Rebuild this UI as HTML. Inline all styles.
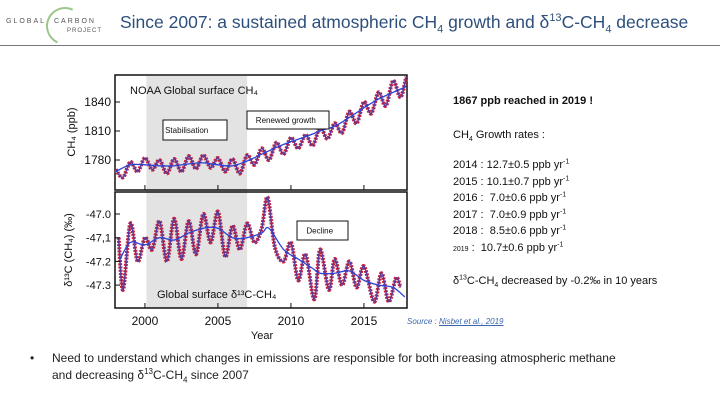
<!DOCTYPE html>
<html><head><meta charset="utf-8"><style>
body{margin:0;width:720px;height:405px;background:#fff;overflow:hidden;position:relative;font-family:"Liberation Sans","DejaVu Sans",sans-serif}
.t{position:absolute;white-space:nowrap}
sup,sub{line-height:0}
</style></head><body>
<div class="t" style="left:6px;top:18px;font-size:7px;letter-spacing:2px;color:#555">GLOBAL</div>
<div style="position:absolute;left:46px;top:7px;width:34px;height:34px;border-radius:50%;border:2px solid #9cc58a;border-right-color:transparent;border-bottom-color:transparent;transform:rotate(-20deg)"></div>
<div class="t" style="left:54px;top:18px;font-size:7px;letter-spacing:2px;color:#555">CARBON</div>
<div class="t" style="left:67px;top:28px;font-size:6px;letter-spacing:1px;color:#555">PROJECT</div>
<div class="t" style="left:120px;top:12px;font-size:17.5px;color:#2d4f7c">Since 2007: a sustained atmospheric CH<sub style="font-size:11px">4</sub> growth and δ<sup style="font-size:11px">13</sup>C-CH<sub style="font-size:11px">4</sub> decrease</div>
<div style="position:absolute;left:0;top:45px;width:720px;height:1px;background:#777"></div>

<svg id="chart" width="720" height="405" style="position:absolute;left:0;top:0"></svg>

<div class="t" style="left:453px;top:95px;font-size:11px;font-weight:bold;color:#111">1867 ppb reached in 2019 !</div>
<div class="t" style="left:453px;top:129px;font-size:11px;color:#111">CH<sub style="font-size:7px">4</sub> Growth rates :</div>
<div class="t" style="left:453px;top:157px;font-size:11px;line-height:16.5px;color:#111">
2014 : 12.7±0.5 ppb yr<sup style="font-size:7px">-1</sup><br>2015 : 10.1±0.7 ppb yr<sup style="font-size:7px">-1</sup><br>2016 :&nbsp; 7.0±0.6 ppb yr<sup style="font-size:7px">-1</sup><br>2017 :&nbsp; 7.0±0.9 ppb yr<sup style="font-size:7px">-1</sup><br>2018 :&nbsp; 8.5±0.6 ppb yr<sup style="font-size:7px">-1</sup><br><span style="font-size:7px">2019</span> :&nbsp; 10.7±0.6 ppb yr<sup style="font-size:7px">-1</sup></div>
<div class="t" style="left:453px;top:275px;font-size:11px;color:#111">δ<sup style="font-size:7px">13</sup>C-CH<sub style="font-size:7px">4</sub> decreased by -0.2‰ in 10 years</div>
<div class="t" style="left:407px;top:317px;font-size:8px;color:#3a66b0;font-style:italic">Source : <u>Nisbet et al., 2019</u></div>
<div class="t" style="left:30px;top:350px;font-size:12px;line-height:17px;color:#222">•<span style="position:absolute;left:22px;top:0">Need to understand which changes in emissions are responsible for both increasing atmospheric methane<br>and decreasing δ<sup style="font-size:8px">13</sup>C-CH<sub style="font-size:8px">4</sub> since 2007</span></div>

<script>
const ch4Years=[1998.0,1998.5,1999.0,1999.5,2000.0,2000.5,2001.0,2001.5,2002.0,2002.5,2003.0,2003.5,2004.0,2004.5,2005.0,2005.5,2006.0,2006.5,2007.0,2007.5,2008.0,2008.5,2009.0,2009.5,2010.0,2010.5,2011.0,2011.5,2012.0,2012.5,2013.0,2013.5,2014.0,2014.5,2015.0,2015.5,2016.0,2016.5,2017.0,2017.5,2017.9];
const ch4Values=[1770,1762,1778,1768,1782,1770,1780,1766,1781,1768,1784,1771,1785,1772,1782,1768,1781,1766,1785,1775,1792,1780,1798,1786,1803,1792,1806,1795,1814,1802,1818,1808,1830,1818,1840,1828,1850,1836,1862,1845,1866];
const ch4TrendYears=[1998,1999,2000,2001,2002,2003,2004,2005,2006,2007,2008,2009,2010,2011,2012,2013,2014,2015,2016,2017,2017.9];
const ch4Trend=[1768,1775,1775,1774,1774,1776,1777,1775,1774,1779,1786,1793,1799,1804,1810,1815,1824,1834,1843,1850,1856];
const d13Years=[1998.2,1998.5,1999.0,1999.5,2000.0,2000.5,2001.0,2001.5,2002.0,2002.5,2003.0,2003.5,2004.0,2004.5,2005.0,2005.5,2006.0,2006.5,2007.0,2007.5,2008.0,2008.4,2008.9,2009.5,2010.0,2010.5,2011.0,2011.6,2012.0,2012.6,2013.0,2013.5,2014.0,2014.5,2015.0,2015.7,2016.2,2016.7,2017.2,2017.5];
const d13Values=[-47.10,-47.32,-47.04,-47.20,-47.10,-47.15,-47.03,-47.20,-47.02,-47.19,-47.03,-47.17,-47.00,-47.12,-46.99,-47.18,-47.05,-47.15,-47.04,-47.12,-47.06,-46.93,-47.14,-47.20,-47.12,-47.28,-47.17,-47.36,-47.15,-47.32,-47.19,-47.30,-47.20,-47.31,-47.22,-47.37,-47.25,-47.37,-47.27,-47.31];
const d13TrendYears=[1998.3,1999,2000,2001,2002,2003,2004,2005,2006,2007,2008,2008.5,2009.5,2010.5,2011.5,2012,2013,2014,2015,2016,2017,2017.8];
const d13Trend=[-47.19,-47.12,-47.13,-47.10,-47.11,-47.08,-47.06,-47.06,-47.10,-47.10,-47.08,-47.06,-47.15,-47.19,-47.23,-47.25,-47.25,-47.24,-47.28,-47.30,-47.31,-47.35];
const xTicks=[2000,2005,2010,2015];
const ch4Ticks=[1780,1810,1840];
const d13Ticks=[-47.0,-47.1,-47.2,-47.3];
const d13TickLabels=["-47.0","-47,1","-47.2","-47.3"];

const svg=document.getElementById('chart');const NS='http://www.w3.org/2000/svg';
function mk(t,a,p){const e=document.createElementNS(NS,t);for(const k in a)e.setAttribute(k,a[k]);(p||svg).appendChild(e);return e;}
const X0=115,X1=407;
const x=v=>X0+(v-1997.95)*(X1-X0)/(2017.95-1997.95);
const yTop=v=>102+(1840-v)*(29/30);
const yB=v=>214+(v+47.0)*(-237);
function path(xs,ys,fy){let pts=xs.map((t,i)=>[x(t),fy(ys[i])]);let d='M'+pts[0][0]+','+pts[0][1];
for(let i=0;i<pts.length-1;i++){const p0=pts[Math.max(0,i-1)],p1=pts[i],p2=pts[i+1],p3=pts[Math.min(pts.length-1,i+2)];
d+=' C'+(p1[0]+(p2[0]-p0[0])/6)+','+(p1[1]+(p2[1]-p0[1])/6)+' '+(p2[0]-(p3[0]-p1[0])/6)+','+(p2[1]-(p3[1]-p1[1])/6)+' '+p2[0]+','+p2[1];}return d;}
let sh=mk('rect',{x:x(2000.1),y:76,width:x(2007)-x(2000.1),height:232,fill:'#e3e3e3'});


let f1=mk('rect',{x:X0,y:75,width:X1-X0,height:115,fill:'none',stroke:'#111','stroke-width':1.5});


let f2=mk('rect',{x:X0,y:192,width:X1-X0,height:116,fill:'none',stroke:'#111','stroke-width':1.5});


function series(xs,ys,fy,name){
 let l=mk('path',{d:path(xs,ys,fy),fill:'none',stroke:'#c8223a','stroke-width':4,'stroke-dasharray':'2 1.2'});
 
 
 let l2=mk('path',{d:path(xs,ys,fy),fill:'none',stroke:'#5a3a9a','stroke-width':1.5});
 
 
}
series(ch4Years,ch4Values,yTop,'ch4');
series(d13Years,d13Values,yB,'d13c');
let t1=mk('path',{d:path(ch4TrendYears,ch4Trend,yTop),fill:'none',stroke:'#2a45d8','stroke-width':1.3});


let t2=mk('path',{d:path(d13TrendYears,d13Trend,yB),fill:'none',stroke:'#2a45d8','stroke-width':1.3});


xTicks.forEach(v=>{
 mk('line',{x1:x(v),x2:x(v),y1:308,y2:303,stroke:'#111'});mk('line',{x1:x(v),x2:x(v),y1:190,y2:185,stroke:'#111'});
 let t=mk('text',{x:x(v),y:325,'text-anchor':'middle','font-size':12,fill:'#111'});t.textContent=v;
 
 
});
ch4Ticks.forEach(v=>{mk('line',{x1:X0,x2:X0+5,y1:yTop(v),y2:yTop(v),stroke:'#111'});
 let t=mk('text',{x:111,y:yTop(v)+4,'text-anchor':'end','font-size':12,fill:'#111'});t.textContent=v;
 
 });
d13Ticks.forEach((v,i)=>{mk('line',{x1:X0,x2:X0+5,y1:yB(v),y2:yB(v),stroke:'#111'});
 let t=mk('text',{x:111,y:yB(v)+4,'text-anchor':'end','font-size':11,fill:'#111'});t.textContent=d13TickLabels[i];
 
 });
let xl=mk('text',{x:262,y:339,'text-anchor':'middle','font-size':11,fill:'#111'});xl.textContent='Year';


let y1=mk('text',{transform:'translate(75,132) rotate(-90)','text-anchor':'middle','font-size':11,fill:'#111'});y1.textContent='CH₄ (ppb)';


let y2=mk('text',{transform:'translate(72,250) rotate(-90)','text-anchor':'middle','font-size':11,fill:'#111'});y2.textContent='δ¹³C (CH₄) (‰)';


function lab(tx,xx,yy,fs,name){let t=mk('text',{x:xx,y:yy,'font-size':fs,fill:'#111'});t.textContent=tx;}
lab('NOAA Global surface CH₄',130,94,11,'ch4-panel-label');
lab('Global surface δ¹³C-CH₄',157,298,11,'d13c-panel-label');
function box(xx,yy,w,h,tx,name){let r=mk('rect',{x:xx,y:yy,width:w,height:h,fill:'#fff',stroke:'#111'});
 lab(tx,xx+w/2-tx.length*2.3,yy+h/2+3,8,name);}
box(163,120,64,20,'Stabilisation','stabilisation-label');
box(247,111,82,18,'Renewed growth','renewed-growth-label');
box(297,221,51,19,'Decline','decline-label');
</script>
</body></html>
